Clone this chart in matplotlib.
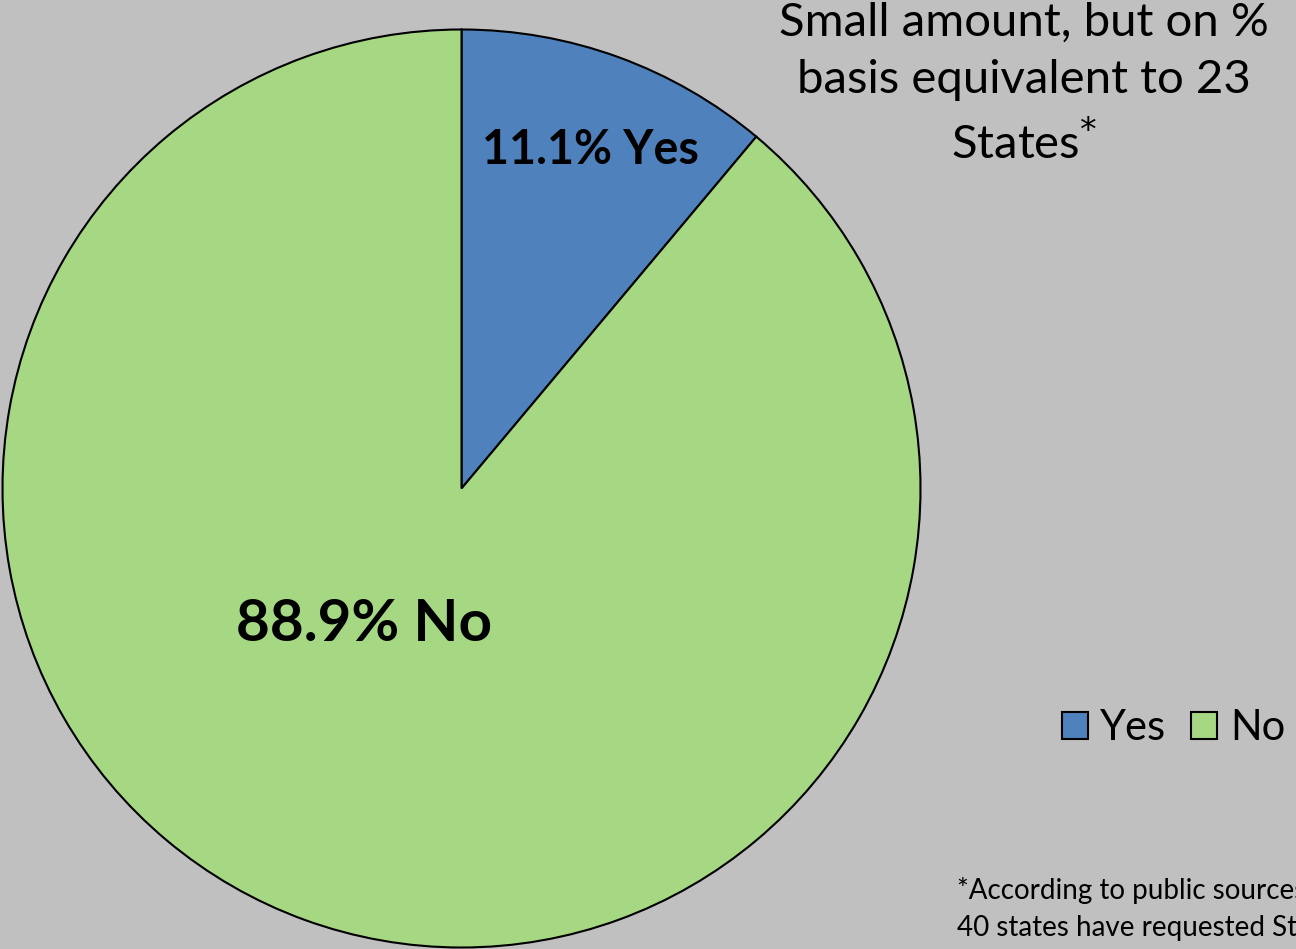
import matplotlib.pyplot as plt

# survey answers, in percent
answers = ['Yes', 'No']
shares = [11.1, 88.9]
colors = ['#4F81BD', '#A6D783']

note = 'Small amount, but on %\nbasis equivalent to 23\nStates$^{*}$'
footnote = '*According to public sources,\n40 states have requested States'


def main():
    plt.rcParams['font.family'] = ['Lato', 'DejaVu Sans']

    fig = plt.figure(figsize=(12.96, 9.49), dpi=100, facecolor='#C0C0C0')
    W, H = 1296, 949
    cx, cy, r = 461.5, 488.5, 459.0
    ax = fig.add_axes([(cx - r) / W, (H - cy - r) / H, 2 * r / W, 2 * r / H])
    ax.set_facecolor('none')

    wedges, _ = ax.pie(shares, colors=colors, startangle=90, counterclock=False,
                       wedgeprops=dict(edgecolor='black', linewidth=1.5))
    ax.set_xlim(-1, 1)
    ax.set_ylim(-1, 1)
    ax.axis('off')

    # slice labels
    ax.text(0.28, 0.737, f'{shares[0]}% {answers[0]}', ha='center', va='center',
            fontsize=33.5, fontweight='bold')
    ax.text(-0.212, -0.297, f'{shares[1]}% {answers[1]}', ha='center', va='center',
            fontsize=42, fontweight='bold')

    fig.text(1024 / W, 1 - 84 / H, note, ha='center', va='center',
             fontsize=34, linespacing=1.45)

    fig.legend(wedges, answers, loc='center left', bbox_to_anchor=(1062 / W, 1 - 728 / H),
               ncol=2, frameon=False, fontsize=30, handlelength=0.62, handleheight=0.62,
               handletextpad=0.3, columnspacing=0.6, borderaxespad=0, borderpad=0)

    fig.text(957 / W, 1 - 909 / H, footnote, ha='left', va='center',
             fontsize=20, linespacing=1.5)

    fig.savefig('out.png', dpi=100, facecolor=fig.get_facecolor())


if __name__ == '__main__':
    main()
